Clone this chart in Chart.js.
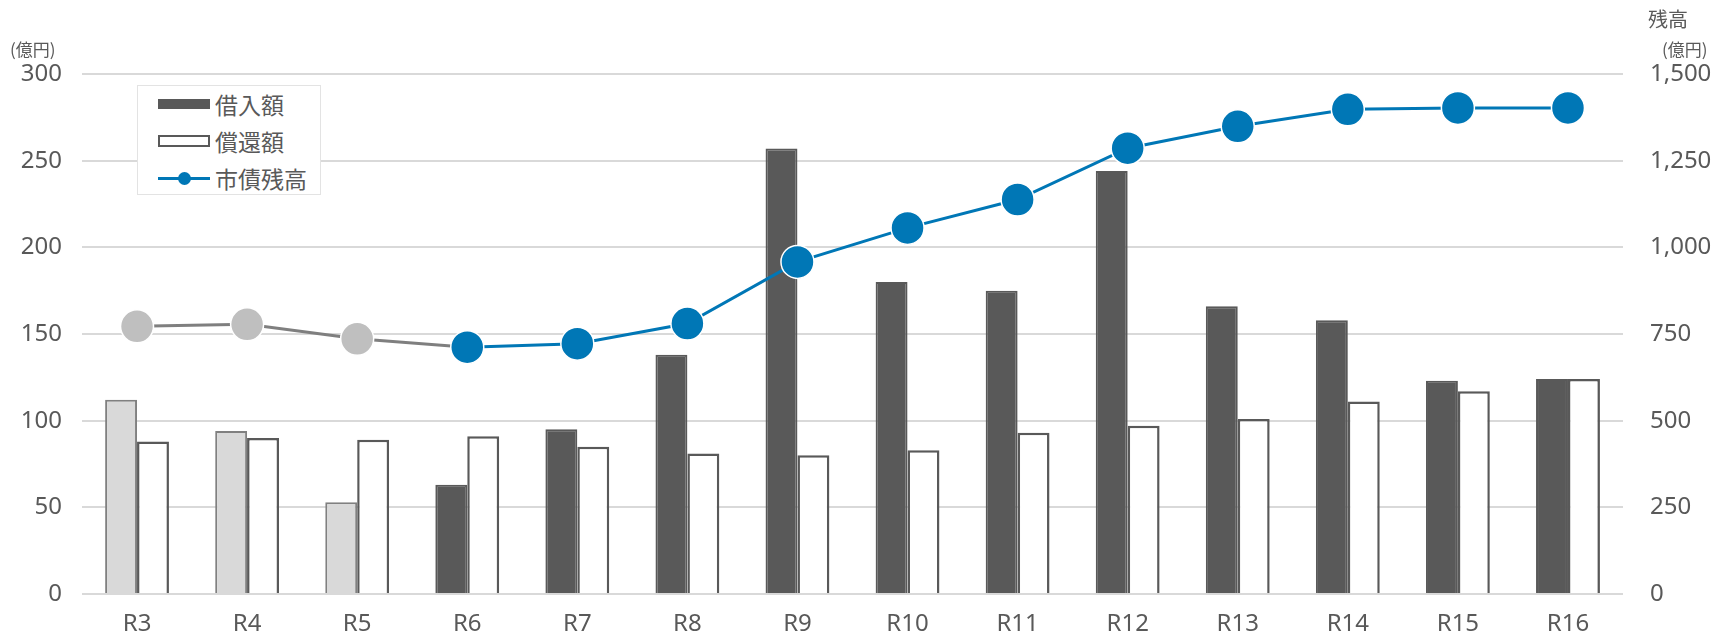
<!DOCTYPE html>
<html>
<head>
<meta charset="utf-8">
<script src="https://cdn.jsdelivr.net/npm/chart.js@4"></script>
<style>
  html, body { margin: 0; padding: 0; background: #fff; }
  #wrap { position: relative; width: 1713px; height: 632px; font-family: "Noto Sans", "Noto Sans CJK JP", sans-serif; color: #595959; }
  canvas { position: absolute; left: 0; top: 0; }
  .unit { position: absolute; font-size: 17px; font-family: "Noto Sans CJK JP", sans-serif; }
  #legend { position: absolute; left: 137px; top: 85px; width: 184px; height: 110px; border: 1px solid #e3e3e3; background: #fff; box-sizing: border-box; }
  .row { position: absolute; left: 20px; height: 30px; display: flex; align-items: center; font-size: 23px; font-family: "Noto Sans CJK JP", sans-serif; color: #595959; }
  .sw { width: 52px; height: 30px; margin-right: 5px; position: relative; }
</style>
</head>
<body>
<div id="wrap">
  <canvas id="myChart" width="1713" height="632"></canvas>
  <div class="unit" style="left:10px; top:36px;">(億円)</div>
  <div class="unit" style="left:1648px; top:4px; font-size:20px;">残高</div>
  <div class="unit" style="left:1662px; top:36px;">(億円)</div>
  <div id="legend">
    <div class="row" style="top:3px;"><div class="sw"><div style="position:absolute;left:0;top:10px;width:52px;height:10px;background:#595959;"></div></div>借入額</div>
    <div class="row" style="top:40px;"><div class="sw"><div style="position:absolute;left:0;top:9px;width:52px;height:12px;border:2.5px solid #595959;box-sizing:border-box;background:#fff;"></div></div>償還額</div>
    <div class="row" style="top:77px;"><div class="sw"><div style="position:absolute;left:0;top:14px;width:52px;height:3px;background:#0077b6;"></div><div style="position:absolute;left:20px;top:9px;width:13px;height:13px;border-radius:50%;background:#0077b6;"></div></div>市債残高</div>
  </div>
</div>
<script>
var labels = ['R3','R4','R5','R6','R7','R8','R9','R10','R11','R12','R13','R14','R15','R16'];
var borrowing = [112, 94, 53, 63, 95, 138, 257, 180, 175, 244, 166, 158, 123, 124];
var repayment = [88, 90, 89, 91, 85, 81, 80, 83, 93, 97, 101, 111, 117, 124];
var balance = [772, 778, 736, 712, 722, 780, 958, 1056, 1138, 1286, 1349, 1398, 1402, 1402];
var pastCount = 3; // R3-R5 are shown in grey

var darkGrey = '#595959';
var lightGrey = '#d9d9d9';
var blue = '#0077b6';

var barFill = borrowing.map(function(v, i) { return i < pastCount ? lightGrey : darkGrey; });
var barEdge = borrowing.map(function(v, i) { return i < pastCount ? '#808080' : darkGrey; });
var dotFill = balance.map(function(v, i) { return i < pastCount ? '#bfbfbf' : blue; });

// fix the chart area to the reference
var fitLeft = function(axis) { axis.width = 82; };
var fitRight = function(axis) { axis.width = 90; };
var fitBottom = function(axis) { axis.height = 38; };

var tickFont = { family: '"Noto Sans", "Noto Sans CJK JP", sans-serif', size: 24 };

var contx = document.getElementById('myChart').getContext('2d');
var myChart = new Chart(contx, {
  type: 'bar',
  data: {
    labels: labels,
    datasets: [{
      type: 'line',
      label: '市債残高',
      data: balance,
      yAxisID: 'y1',
      order: 0,
      borderWidth: 3,
      borderColor: blue,
      segment: {
        borderColor: function(ctx) { return ctx.p0DataIndex < pastCount ? '#7f7f7f' : blue; }
      },
      pointRadius: 16.5,
      pointHoverRadius: 16.5,
      pointBorderWidth: 1.5,
      pointBorderColor: '#ffffff',
      pointBackgroundColor: dotFill,
      tension: 0
    }, {
      label: '借入額',
      data: borrowing,
      yAxisID: 'y',
      order: 1,
      backgroundColor: barFill,
      borderColor: barEdge,
      borderWidth: 2,
      borderSkipped: 'bottom',
      categoryPercentage: 0.58,
      barPercentage: 1
    }, {
      label: '償還額',
      data: repayment,
      yAxisID: 'y',
      order: 2,
      backgroundColor: '#ffffff',
      borderColor: darkGrey,
      borderWidth: 2.5,
      borderSkipped: 'bottom',
      categoryPercentage: 0.58,
      barPercentage: 1
    }]
  },
  options: {
    responsive: false,
    animation: false,
    layout: { padding: { top: 74, left: 0, right: 0, bottom: 0 } },
    plugins: {
      legend: { display: false },
      tooltip: { enabled: false }
    },
    scales: {
      x: {
        afterFit: fitBottom,
        grid: { display: false },
        border: { display: false },
        ticks: { color: darkGrey, font: tickFont, padding: 8 }
      },
      y: {
        position: 'left',
        min: 0,
        max: 300,
        afterFit: fitLeft,
        border: { display: false },
        grid: { color: '#d9d9d9', lineWidth: 2, drawTicks: false },
        ticks: { stepSize: 50, color: darkGrey, font: tickFont, padding: 20 }
      },
      y1: {
        position: 'right',
        min: 0,
        max: 1500,
        afterFit: fitRight,
        border: { display: false },
        grid: { display: false },
        ticks: {
          stepSize: 250,
          color: darkGrey,
          font: tickFont,
          padding: 19,
          callback: function(v) { return v.toLocaleString('en-US'); }
        }
      }
    }
  }
});
</script>
</body>
</html>
